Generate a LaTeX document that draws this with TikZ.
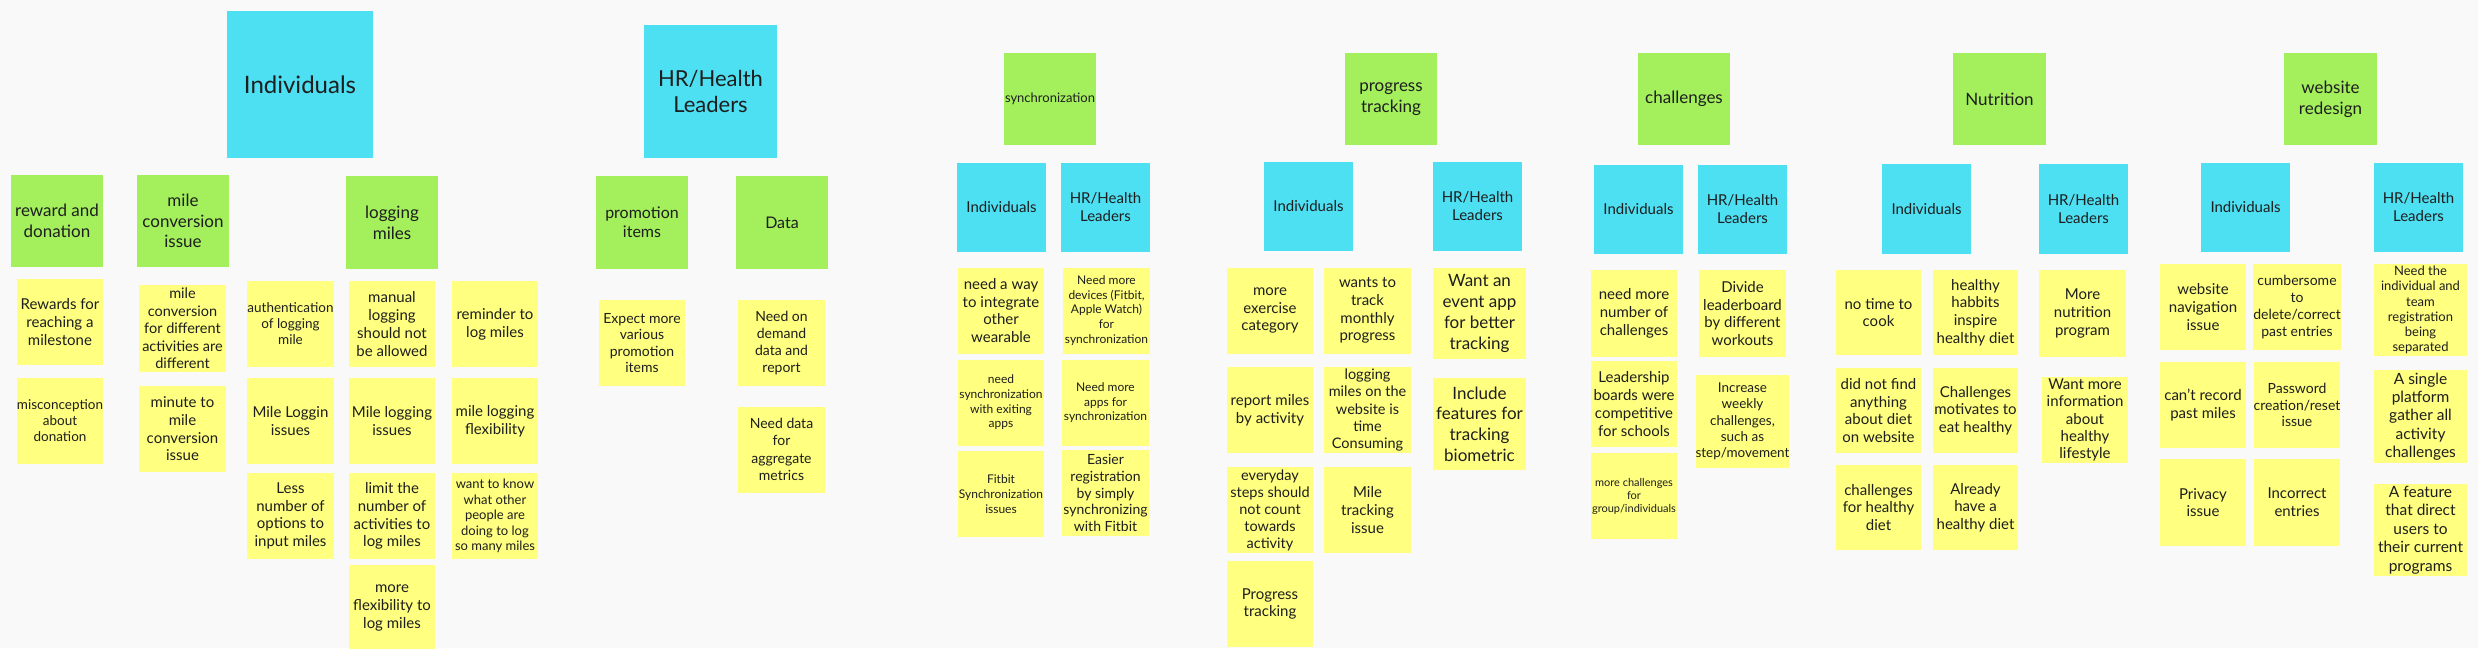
\documentclass[tikz,border=0pt]{standalone}
\usepackage{fontspec}
\setmainfont{Lato}
\definecolor{bgpaper}{HTML}{F9F9F9}
\definecolor{skyblue}{HTML}{4DDFF2}
\definecolor{leafgreen}{HTML}{A3EF5C}
\definecolor{notey}{HTML}{FFFF80}
\definecolor{ink}{HTML}{1E1E1E}
\begin{document}
\begin{tikzpicture}[x=1pt,y=-1pt,
	every node/.style={inner sep=0pt,align=center,text=ink},
	sz/.style 2 args={font=\fontsize{#1}{#2}\selectfont},
	person/.style={fill=skyblue,minimum width=89pt,minimum height=89pt,sz={15}{18}},
	topic/.style={fill=leafgreen,minimum width=92pt,minimum height=92pt,sz={17}{20.7}},
	note/.style={fill=notey,minimum width=86pt,minimum height=86pt,sz={15}{17.7}},
	wide/.style={minimum width=93pt,minimum height=92pt}]
\useasboundingbox[fill=bgpaper] (0,0) rectangle (2478,648);

\node[person,minimum width=146pt,minimum height=147pt,sz={24}{28}] (ind) at (300,84.5) {Individuals};
\node[person,minimum width=133pt,minimum height=133pt,sz={22}{25.7}] (hr) at (710.5,91.5) {HR/Health\\Leaders};

\node[topic] (rwd) at (57,221) {reward and\\donation};
\node[topic] (mconv) at (183,221) {mile\\conversion\\issue};
\node[topic,minimum height=93pt] (logm) at (392,222.5) {logging\\miles};
\node[note] (rwd1) at (60,322) {Rewards for\\reaching a\\milestone};
\node[note,sz={13.5}{16}] (rwd2) at (60,421) {misconception\\about\\donation};
\node[note,minimum width=87pt,minimum height=87pt,sz={14.5}{17.5}] (mconv1) at (182.5,328.5) {mile\\conversion\\for different\\activities are\\different};
\node[note,minimum width=87pt] (mconv2) at (182.5,429) {minute to\\mile\\conversion\\issue};
\node[note,minimum width=87pt,sz={13.5}{16}] (logm1) at (290.5,324) {authentication\\of logging\\mile};
\node[note,minimum width=87pt] (logm2) at (290.5,421) {Mile Loggin\\issues};
\node[note,minimum width=87pt] (logm3) at (290.5,516) {Less\\number of\\options to\\input miles};
\node[note] (logm4) at (392,324) {manual\\logging\\should not\\be allowed};
\node[note] (logm5) at (392,421) {Mile logging\\issues};
\node[note] (logm6) at (392,516) {limit the\\number of\\activities to\\log miles};
\node[note] (logm7) at (392,608) {more\\flexibility to\\log miles};
\node[note] (logm8) at (495,324) {reminder to\\log miles};
\node[note] (logm9) at (495,421) {mile logging\\flexibility};
\node[note,sz={13}{15.5}] (logm10) at (495,516) {want to know\\what other\\people are\\doing to log\\so many miles};

\node[topic,minimum height=93pt,sz={16}{19}] (promo) at (642,222.5) {promotion\\items};
\node[topic,minimum height=93pt,sz={16}{19}] (data) at (782,222.5) {Data};
\node[note,sz={14}{16.4}] (promo1) at (642,343) {Expect more\\various\\promotion\\items};
\node[note,minimum width=87pt,sz={14}{17}] (data1) at (781.5,343) {Need on\\demand\\data and\\report};
\node[note,minimum width=87pt,sz={14}{17.3}] (data2) at (781.5,449.5) {Need data\\for\\aggregate\\metrics};

\node[topic,sz={13}{15.5}] (sync) at (1050,99) {synchronization};
\node[person] (syncind) at (1001.5,207.5) {Individuals};
\node[person] (synchr) at (1105.5,207.5) {HR/Health\\Leaders};
\node[note] (sync1) at (1001,310.5) {need a way\\to integrate\\other\\wearable};
\node[note,sz={12}{14.7}] (sync2) at (1001,402.5) {need\\synchronization\\with exiting\\apps};
\node[note,sz={12}{14.7}] (sync3) at (1001,494) {Fitbit\\Synchronization\\issues};
\node[note,minimum width=87pt,sz={12}{14.8}] (sync4) at (1106.5,310.5) {Need more\\devices (Fitbit,\\Apple Watch)\\for\\synchronization};
\node[note,minimum width=87pt,sz={12}{14.5}] (sync5) at (1105.5,403) {Need more\\apps for\\synchronization};
\node[note,minimum width=87pt,sz={14}{16.7}] (sync6) at (1105.5,493) {Easier\\registration\\by simply\\synchronizing\\with Fitbit};

\node[topic] (prog) at (1391,99) {progress\\tracking};
\node[person] (progind) at (1308.5,206.5) {Individuals};
\node[person] (proghr) at (1477.5,206.5) {HR/Health\\Leaders};
\node[note] (prog1) at (1270,310.5) {more\\exercise\\category};
\node[note] (prog2) at (1270,410) {report miles\\by activity};
\node[note,sz={14.5}{17}] (prog3) at (1270,510) {everyday\\steps should\\not count\\towards\\activity};
\node[note] (prog4) at (1270,604) {Progress\\tracking};
\node[note,minimum width=87pt] (prog5) at (1367.5,310.5) {wants to\\track\\monthly\\progress};
\node[note,minimum width=87pt,sz={14.5}{17.3}] (prog6) at (1367.5,410) {logging\\miles on the\\website is\\time\\Consuming};
\node[note,minimum width=87pt] (prog7) at (1367.5,510) {Mile\\tracking\\issue};
\node[note,wide,minimum height=91pt,sz={17}{20.7}] (prog8) at (1479.5,313.5) {Want an\\event app\\for better\\tracking};
\node[note,wide,sz={17}{20.7}] (prog9) at (1479.5,424) {Include\\features for\\tracking\\biometric};

\node[topic] (chal) at (1684,99) {challenges};
\node[person] (chalind) at (1638.5,209.5) {Individuals};
\node[person] (chalhr) at (1742.5,209.5) {HR/Health\\Leaders};
\node[note,minimum height=87pt] (chal1) at (1634,313.5) {need more\\number of\\challenges};
\node[note] (chal2) at (1634,404) {Leadership\\boards were\\competitive\\for schools};
\node[note,sz={11}{13}] (chal3) at (1634,496) {more challenges\\for\\group/individuals};
\node[note,minimum width=87pt,minimum height=87pt] (chal4) at (1742.5,313.5) {Divide\\leaderboard\\by different\\workouts};
\node[note,wide,minimum height=93pt,sz={13.5}{16.3}] (chal5) at (1742.5,421.5) {Increase\\weekly\\challenges,\\such as\\step/movement};

\node[topic,minimum width=93pt] (nutr) at (1999.5,99) {Nutrition};
\node[person,minimum height=90pt] (nutrind) at (1926.5,209) {Individuals};
\node[person,minimum height=90pt] (nutrhr) at (2083.5,209) {HR/Health\\Leaders};
\node[note,minimum width=85pt,minimum height=85pt] (nutr1) at (1878.5,312.5) {no time to\\cook};
\node[note,minimum width=85pt,minimum height=85pt] (nutr2) at (1878.5,410.5) {did not find\\anything\\about diet\\on website};
\node[note,minimum width=85pt,minimum height=85pt] (nutr3) at (1878.5,507.5) {challenges\\for healthy\\diet};
\node[note,minimum width=85pt,minimum height=85pt] (nutr4) at (1975.5,312.5) {healthy\\habbits\\inspire\\healthy diet};
\node[note,minimum width=85pt,minimum height=85pt] (nutr5) at (1975.5,410.5) {Challenges\\motivates to\\eat healthy};
\node[note,minimum width=85pt,minimum height=85pt] (nutr6) at (1975.5,507.5) {Already\\have a\\healthy diet};
\node[note,minimum width=87pt,minimum height=87pt] (nutr7) at (2082.5,313.5) {More\\nutrition\\program};
\node[note,sz={15}{17.3}] (nutr8) at (2085,420) {Want more\\information\\about\\healthy\\lifestyle};

\node[topic,minimum width=93pt] (web) at (2330.5,99) {website\\redesign};
\node[person] (webind) at (2245.5,207.5) {Individuals};
\node[person] (webhr) at (2418.5,207.5) {HR/Health\\Leaders};
\node[note] (web1) at (2203,307) {website\\navigation\\issue};
\node[note] (web2) at (2203,405) {can't record\\past miles};
\node[note,minimum height=87pt] (web3) at (2203,502.5) {Privacy\\issue};
\node[note,sz={14}{17}] (web4) at (2297,307) {cumbersome\\to\\delete/correct\\past entries};
\node[note,sz={14}{16.5}] (web5) at (2297,405) {Password\\creation/reset\\issue};
\node[note,minimum height=87pt] (web6) at (2297,502.5) {Incorrect\\entries};
\node[note,wide,sz={13}{15.3}] (web7) at (2420.5,310) {Need the\\individual and\\team\\registration\\being\\separated};
\node[note,wide,minimum height=93pt,sz={15.5}{18.3}] (web8) at (2420.5,416.5) {A single\\platform\\gather all\\activity\\challenges};
\node[note,wide,sz={15.5}{18.6}] (web9) at (2420.5,530) {A feature\\that direct\\users to\\their current\\programs};
\end{tikzpicture}
\end{document}
